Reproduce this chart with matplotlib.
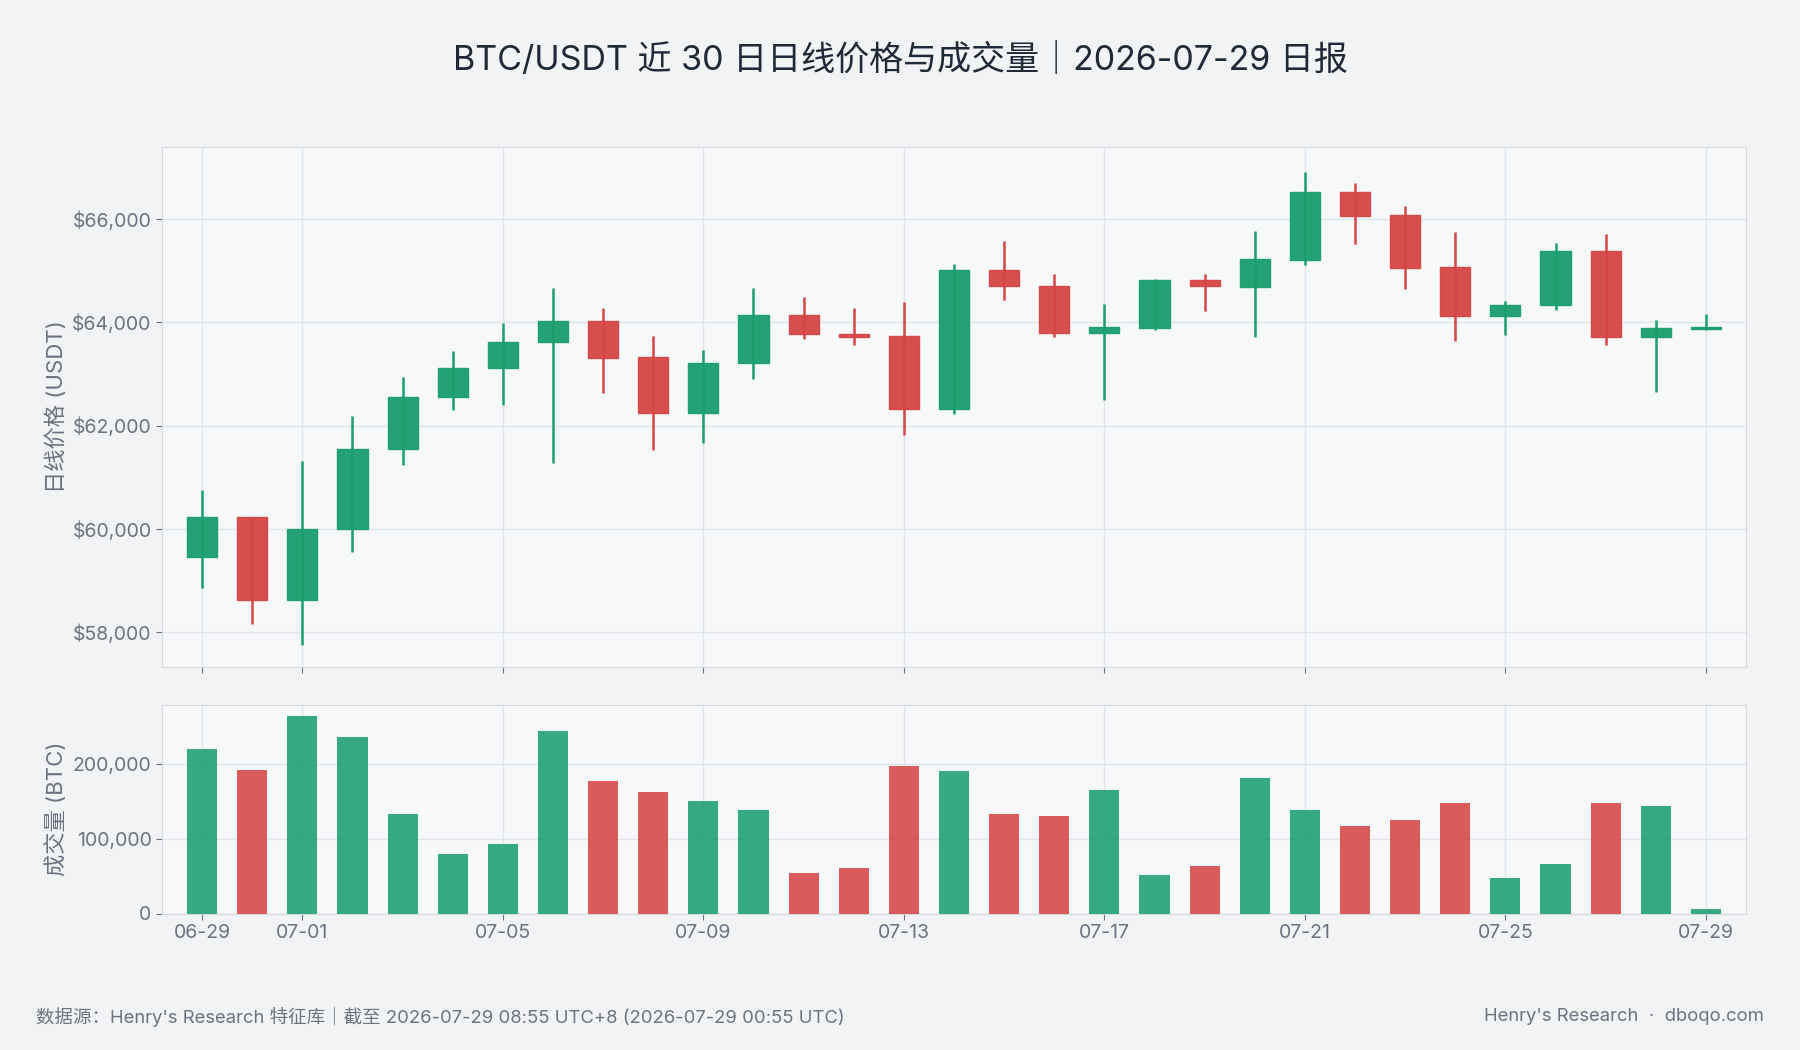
import matplotlib
matplotlib.use("Agg")
import matplotlib.pyplot as plt
import numpy as np

plt.rcParams['font.family'] = ['Inter', 'Noto Sans CJK SC', 'DejaVu Sans']

dates = ["06-29","06-30","07-01","07-02","07-03","07-04","07-05","07-06","07-07","07-08",
         "07-09","07-10","07-11","07-12","07-13","07-14","07-15","07-16","07-17","07-18",
         "07-19","07-20","07-21","07-22","07-23","07-24","07-25","07-26","07-27","07-28","07-29"]
opens  = [59462,60238,58620,59994,61545,62565,63119,63628,64027,63340,62254,63207,64138,63783,63739,62321,
          65024,64714,63805,63894,64825,64692,65202,66531,66088,65068,64116,64337,65379,63717,63872]
closes = [60238,58620,59994,61545,62565,63119,63628,64027,63318,62254,63207,64138,63783,63717,62321,65024,
          64714,63805,63916,64825,64714,65224,66531,66066,65046,64116,64337,65379,63717,63894,63916]
highs  = [60748,60238,61324,62188,62941,63451,63983,64670,64271,63739,63473,64670,64492,64271,64404,65135,
          65578,64935,64359,64850,64935,65778,66907,66708,66265,65755,64420,65534,65711,64050,64160]
lows   = [58864,58155,57756,59551,61235,62299,62410,61280,62631,61523,61656,62897,63672,63562,61811,62232,
          64426,63717,62498,63850,64227,63717,65113,65512,64648,63650,63761,64249,63562,62653,63850]
volumes = [220000,192000,265000,237000,133000,80000,93000,244000,178000,163000,151000,139000,54000,61000,
           197000,191000,133000,131000,166000,51000,63000,181000,139000,117000,125000,148000,47000,67000,
           148000,144000,6000]
tick_labels = ["06-29","07-01","07-05","07-09","07-13","07-17","07-21","07-25","07-29"]

GREEN = "#1a9e6e"
RED = "#d64545"
fig = plt.figure(figsize=(18, 10.5), dpi=100, facecolor="#f2f3f5")
ax = fig.add_axes([0.09, 0.365, 0.88, 0.495])
axv = fig.add_axes([0.09, 0.130, 0.88, 0.199], sharex=ax)

x = np.arange(len(dates))
cols = [GREEN if c >= o else RED for o, c in zip(opens, closes)]
for i in x:
    ax.vlines(i, lows[i], highs[i], color=cols[i], lw=1.8, zorder=3)
    b = min(opens[i], closes[i]); h = max(abs(closes[i]-opens[i]), 40)
    ax.bar(i, h, bottom=b, width=0.6, color=cols[i], edgecolor=cols[i], alpha=0.95, zorder=4)
axv.bar(x, volumes, width=0.6, color=cols, alpha=0.88, zorder=3)

tpos = [dates.index(t) for t in tick_labels]
for a in (ax, axv):
    a.set_facecolor("#f6f8fa")
    for s in a.spines.values():
        s.set_color("#d5d9de")
    a.grid(True, color="#e1e4e8", lw=1, zorder=0)
    a.set_axisbelow(True)
    a.tick_params(colors="#6b7280", labelsize=14, length=4)
ax.set_xticks(tpos)
ax.set_xticklabels(tick_labels)
ax.tick_params(axis='x', labelbottom=False)
ax.set_xlim(-0.8, 30.8)
ax.set_ylim(57330, 67400)
ax.set_yticks([58000, 60000, 62000, 64000, 66000])
ax.set_yticklabels([f"${v:,}" for v in [58000, 60000, 62000, 64000, 66000]])
axv.set_ylim(0, 280000)
axv.set_yticks([0, 100000, 200000])
axv.set_yticklabels(["0", "100,000", "200,000"])
ax.set_ylabel("日线价格 (USDT)", fontsize=16, color="#6b7280")
axv.set_ylabel("成交量 (BTC)", fontsize=16, color="#6b7280")

fig.text(0.5, 0.943, "BTC/USDT 近 30 日日线价格与成交量｜2026-07-29 日报", ha="center", va="center",
         fontsize=24.5, color="#1f2937")
fig.text(0.02, 0.032, "数据源：Henry's Research 特征库｜截至 2026-07-29 08:55 UTC+8 (2026-07-29 00:55 UTC)",
         fontsize=13.3, color="#6b7280", va="center")
fig.text(0.98, 0.032, "Henry's Research  ·  dboqo.com", fontsize=13.3, color="#6b7280", va="center", ha="right")
fig.savefig("out.png", dpi=100, facecolor=fig.get_facecolor())
